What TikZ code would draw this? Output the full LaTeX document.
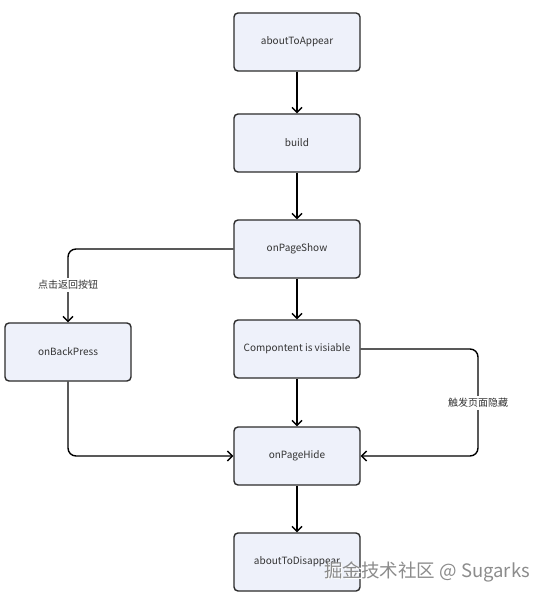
\documentclass[tikz,border=0pt]{standalone}
\usepackage{fontspec}
\setmainfont{Noto Sans CJK SC}
\usetikzlibrary{arrows.meta}
\definecolor{boxfill}{HTML}{EEF1FA}
\definecolor{boxline}{HTML}{2B2B2B}
\definecolor{txt}{HTML}{333333}
\tikzset{
  stagebox/.style={draw=boxline, fill=boxfill, line width=1.4pt, rounded corners=4pt,
    minimum width=126pt, minimum height=58pt, inner sep=0pt, text=txt,
    font=\fontsize{10}{12}\selectfont},
  flow/.style={draw=black, line width=1.4pt, rounded corners=8pt,
    -{Straight Barb[length=5pt,width=10pt,line width=1.4pt]}},
  elabel/.style={fill=white, text=txt, inner sep=2pt, font=\fontsize{10}{12}\selectfont},
  wmark/.style={font=\fontsize{18.5}{22}\selectfont, anchor=east},
}
\begin{document}
\begin{tikzpicture}[x=1pt,y=-1pt]
\useasboundingbox (0,0) rectangle (550,601);
\node[stagebox] (appear) at (297,42) {aboutToAppear};
\node[stagebox] (build) at (297,143) {build};
\node[stagebox] (show) at (297,249) {onPageShow};
\node[stagebox] (vis) at (297,349) {Compontent is visiable};
\node[stagebox] (hide) at (297,456) {onPageHide};
\node[stagebox] (disappear) at (297,562) {aboutToDisappear};
\node[stagebox] (back) at (68,352) {onBackPress};

\coordinate (c1) at (68,249);
\coordinate (c2) at (68,456);
\coordinate (c3) at (478,349);
\coordinate (c4) at (478,456);

\draw[flow] (appear) -- (build);
\draw[flow] (build) -- (show);
\draw[flow] (show) -- (vis);
\draw[flow] (vis) -- (hide);
\draw[flow] (hide) -- (disappear);
\draw[flow] (show.west) -- (c1) -- (back.north);
\draw[flow] (back.south) -- (c2) -- (hide.west);
\draw[flow] (vis.east) -- (c3) -- (c4) -- (hide.east);

\node[elabel] (lbl1) at (68,285) {点击返回按钮};
\node[elabel] (lbl2) at (478,403) {触发页面隐藏};

\node[wmark, text=white] (wm0) at (535,572.5) {掘金技术社区 @ Sugarks};
\node[wmark, text=black!45] (wm) at (533.5,572) {掘金技术社区 @ Sugarks};
\end{tikzpicture}
\end{document}
